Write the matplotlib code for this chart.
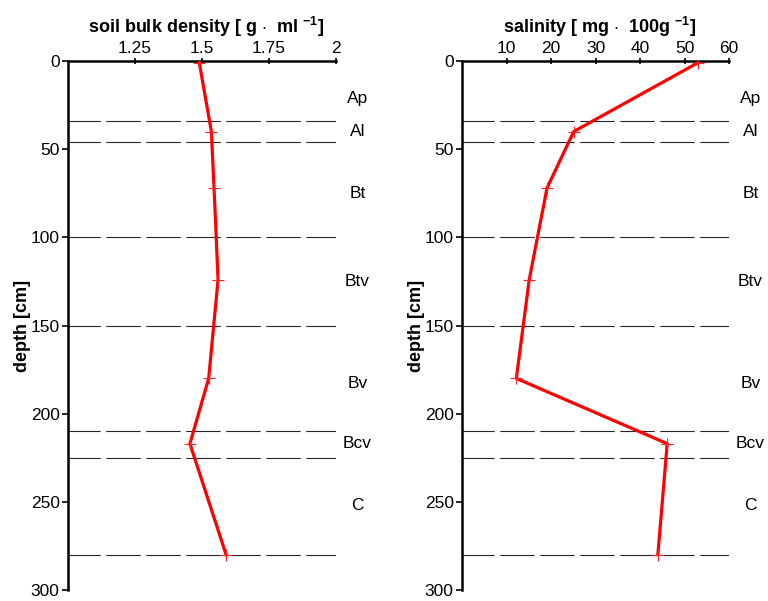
import matplotlib.pyplot as plt

plt.rcParams['font.family'] = ['Liberation Sans', 'DejaVu Sans']
plt.rcParams['mathtext.fontset'] = 'custom'
plt.rcParams['mathtext.bf'] = 'Liberation Sans:bold'
plt.rcParams['mathtext.rm'] = 'Liberation Sans:bold'
plt.rcParams['mathtext.default'] = 'bf'

# Daten
depth = [1, 40, 72, 124, 180, 217, 280]
density = [1.49, 1.535, 1.545, 1.56, 1.525, 1.455, 1.59]
salinity = [53.0, 25.1, 19.1, 15.1, 12.2, 46.1, 44.0]

horizon_lines = [34, 46, 100, 150, 210, 225, 280]
horizon_names = ['Ap', 'Al', 'Bt', 'Btv', 'Bv', 'Bcv', 'C']
horizon_label_depth = [21, 40, 75, 125, 183, 217, 252]

density_ticks = [1.25, 1.5, 1.75, 2]
density_ticklabels = ['1.25', '1.5', '1.75', '2']
salinity_ticks = [10, 20, 30, 40, 50, 60]
depth_ticks = [0, 50, 100, 150, 200, 250, 300]

fig = plt.figure(figsize=(7.68, 6.01), dpi=100)
ax1 = fig.add_axes([0.0885, 0.0183, 0.349, 0.8802])
ax2 = fig.add_axes([0.6016, 0.0183, 0.3477, 0.8802])


def style_panel(ax, xvals, xlim, xticks, xticklabels, title):
    for d in horizon_lines:
        ax.axhline(d, color='0.15', lw=0.8, ls=(2, (31, 5)), zorder=1)
    ax.plot(xvals, depth, color='red', lw=2.3, zorder=3)
    ax.plot(xvals, depth, ls='none', marker='+', ms=9, mew=0.8,
            color='#ff2020', zorder=4)
    ax.set_xlim(*xlim)
    ax.set_ylim(300, 0)
    ax.xaxis.tick_top()
    ax.set_xticks(xticks)
    ax.set_xticklabels(xticklabels)
    ax.set_yticks(depth_ticks)
    ax.tick_params(axis='x', direction='inout', length=5, width=1.2,
                   labelsize=12.5, pad=1)
    ax.tick_params(axis='y', direction='out', length=4, width=1.2,
                   labelsize=12.5, pad=2)
    for s in ['right', 'bottom']:
        ax.spines[s].set_visible(False)
    for s in ['left', 'top']:
        ax.spines[s].set_linewidth(1.8)
    # Titel fest positionieren (über den Tick-Beschriftungen)
    ax.text(0.515, 1.064, title, transform=ax.transAxes, ha='center',
            va='center', fontsize=13, fontweight='bold')
    ax.set_ylabel('depth [cm]', fontsize=13, fontweight='bold', labelpad=0)
    for name, d in zip(horizon_names, horizon_label_depth):
        ax.text(1.08, d, name, transform=ax.get_yaxis_transform(),
                ha='center', va='center', fontsize=12.5, clip_on=False)


style_panel(ax1, density, (1.0, 2.0), density_ticks, density_ticklabels,
            r'soil bulk density [ g $\cdot$  ml $^{-1}$]')
style_panel(ax2, salinity, (0, 60), salinity_ticks,
            [str(t) for t in salinity_ticks],
            r'salinity [ mg $\cdot$  100g $^{-1}$]')

fig.savefig('out.png', dpi=100)
